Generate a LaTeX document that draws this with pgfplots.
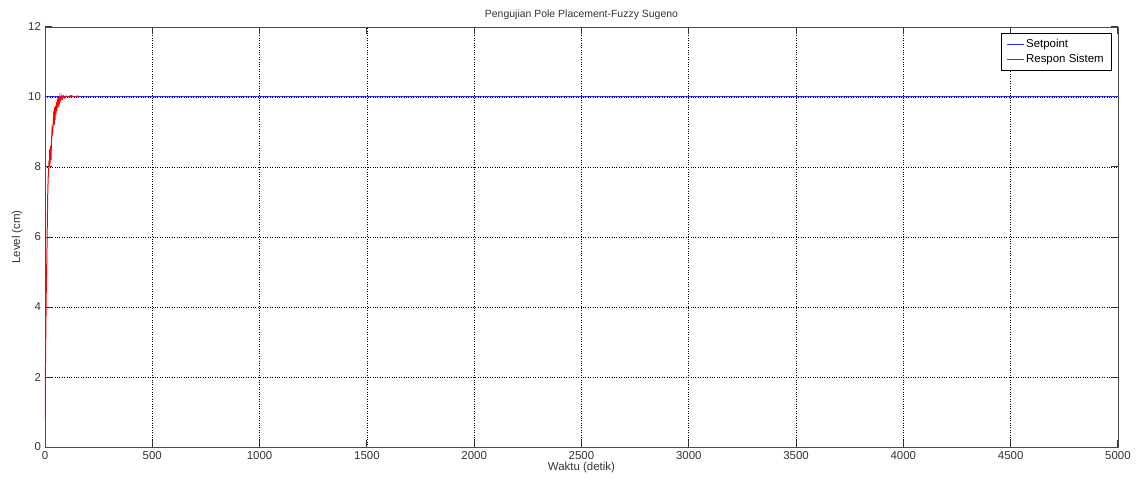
\documentclass[border=0pt]{standalone}
\usepackage{pgfplots}
\pgfplotsset{compat=1.18}
\usepackage{fontspec}
\setmainfont{Liberation Sans}
\definecolor{sblue}{RGB}{40,40,255}
\definecolor{sred}{RGB}{255,0,0}
\begin{document}
\begin{tikzpicture}
\fontsize{11.5}{13}\selectfont
\path[use as bounding box] (-45bp,-42bp) rectangle (1095bp,447bp);
\begin{axis}[
  at={(0,0)}, anchor=south west,
  width=1073bp, height=420bp, scale only axis,
  xmin=0, xmax=5000, ymin=0, ymax=12,
  xtick={0,500,...,5000}, ytick={0,2,4,6,8,10,12},
  scaled x ticks=false,
  xticklabel style={/pgf/number format/1000 sep={}},
  /pgf/number format/assume math mode=true,
  tick align=inside, major tick length=7bp,
  axis line style={draw=black!70},
  every tick/.style={solid, draw=black!80, line width=1pt},
  xmajorgrids, ymajorgrids,
  major grid style={draw=black, dotted, line width=0.6pt},
  title={Pengujian Pole Placement-Fuzzy Sugeno},
  title style={yshift=-3bp, font=\fontsize{10.5}{12}\selectfont, text=black!80},
  xlabel={Waktu (detik)}, ylabel={Level (cm)},
  xlabel style={yshift=5bp, text=black!80},
  ylabel style={yshift=-2bp, text=black!80},
  ticklabel style={text=black!80},
  legend style={at={(0.9935,0.985)}, anchor=north east, font=\fontsize{11.5}{13}\selectfont, cells={anchor=west}, inner xsep=5pt, inner ysep=4pt, row sep=1pt},
  legend cell align=left,
]
\addplot[sblue, line width=1pt] coordinates {(0,10) (5000,10)};
\addlegendentry{Setpoint}
\addplot[sred, line width=1pt] coordinates {
(0,0.8)(3,2.8)(6,4.5)(9,5.5)(11,6.5)(13,7.3)(15,7.7)(17,7.9)(19,8.2)(21,8.0)(22,8.5)(24,8.1)(26,8.6)(28,8.2)(30,8.7)(33,9.1)(36,9.0)(39,9.3)(41,9.6)(43,9.2)(45,9.7)(47,9.35)(49,9.75)(51,9.5)(53,9.85)(55,9.6)(58,9.95)(61,9.7)(64,10.0)(67,9.85)(70,10.03)(74,9.9)(78,10.03)(82,9.95)(86,10.03)(92,9.97)(100,10.03)(110,10.0)(120,10.04)(135,10.01)(155,10.03)
};
\addlegendentry{Respon Sistem}
\end{axis}
\end{tikzpicture}
\end{document}
